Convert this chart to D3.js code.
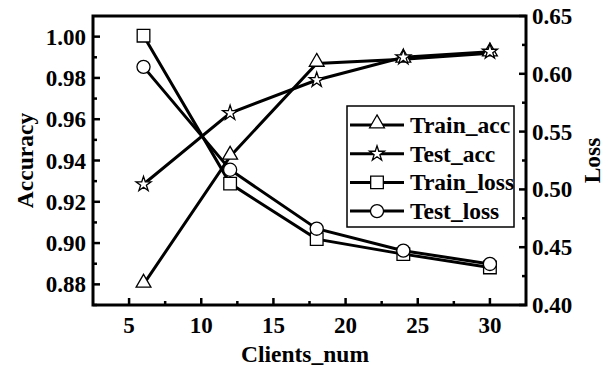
<!DOCTYPE html>
<html><head><meta charset="utf-8">
<script src="https://cdn.jsdelivr.net/npm/d3@7"></script>
<style>body{margin:0;background:#fff}svg{display:block}text{font-family:"Liberation Serif",serif;font-weight:bold}</style>
</head><body><svg id="c" width="610" height="366"></svg>
<script>
const clients = [6, 12, 18, 24, 30];
const trainAcc = [0.880, 0.942, 0.987, 0.989, 0.992];
const testAcc = [0.9285, 0.963, 0.979, 0.990, 0.9927];
const trainLoss = [0.633, 0.505, 0.457, 0.444, 0.4325];
const testLoss = [0.606, 0.517, 0.466, 0.447, 0.4355];
const xTicks = [5, 10, 15, 20, 25, 30];
const accTicks = [0.88, 0.90, 0.92, 0.94, 0.96, 0.98, 1.00];
const lossTicks = [0.40, 0.45, 0.50, 0.55, 0.60, 0.65];

const svg = d3.select("#c");
const L = 93, R = 526, T = 16, B = 305;
const x = d3.scaleLinear().domain([2.5, 32.5]).range([L, R]);
const yA = d3.scaleLinear().domain([0.87, 1.01]).range([B, T]);
const yL = d3.scaleLinear().domain([0.40, 0.65]).range([B, T]);

const g = svg.append("g");
function ticksX(vals, len) {
  vals.forEach(v => g.append("line").attr("x1", x(v)).attr("x2", x(v)).attr("y1", B).attr("y2", B - len).attr("stroke", "#000").attr("stroke-width", 2.5));
}
ticksX(xTicks, 7);
ticksX(xTicks.map(v => v + 2.5).filter(v => v < 32.5), 4);
const accMinor = d3.range(0.87, 1.005, 0.02).map(v => +v.toFixed(3));
accTicks.forEach(v => g.append("line").attr("x1", L).attr("x2", L + 7).attr("y1", yA(v)).attr("y2", yA(v)).attr("stroke", "#000").attr("stroke-width", 2.5));
accMinor.forEach(v => g.append("line").attr("x1", L).attr("x2", L + 4).attr("y1", yA(v)).attr("y2", yA(v)).attr("stroke", "#000").attr("stroke-width", 2.5));
lossTicks.forEach(v => g.append("line").attr("x1", R).attr("x2", R - 7).attr("y1", yL(v)).attr("y2", yL(v)).attr("stroke", "#000").attr("stroke-width", 2.5));
lossTicks.slice(0, -1).forEach(v => g.append("line").attr("x1", R).attr("x2", R - 4).attr("y1", yL(v + 0.025)).attr("y2", yL(v + 0.025)).attr("stroke", "#000").attr("stroke-width", 2.5));

const fs = 23;
xTicks.forEach(v => g.append("text").attr("x", x(v)).attr("y", 333).attr("text-anchor", "middle").attr("font-size", fs).text(v));
accTicks.forEach(v => g.append("text").attr("x", 86).attr("y", yA(v) + 8).attr("text-anchor", "end").attr("font-size", fs).text(v.toFixed(2)));
lossTicks.forEach(v => g.append("text").attr("x", 532).attr("y", yL(v) + 8).attr("text-anchor", "start").attr("font-size", fs).text(v.toFixed(2)));

g.append("text").attr("x", 305).attr("y", 362).attr("text-anchor", "middle").attr("font-size", 23.5).text("Clients_num");
g.append("text").attr("transform", `translate(33,${(T + B) / 2}) rotate(-90)`).attr("text-anchor", "middle").attr("font-size", 23.5).text("Accuracy");
g.append("text").attr("transform", `translate(600,${(T + B) / 2}) rotate(-90)`).attr("text-anchor", "middle").attr("font-size", 23.5).text("Loss");

const sym = {
  tri: d3.symbol().type(d3.symbolTriangle).size(95),
  star: d3.symbol().type(d3.symbolStar).size(70),
  sq: d3.symbol().type(d3.symbolSquare).size(160),
  circ: d3.symbol().type(d3.symbolCircle).size(135)
};
const series = [
  { name: "Train_acc", vals: trainAcc, y: yA, s: "tri", dy: -1.5 },
  { name: "Test_acc", vals: testAcc, y: yA, s: "star", dy: 0 },
  { name: "Train_loss", vals: trainLoss, y: yL, s: "sq", dy: 0 },
  { name: "Test_loss", vals: testLoss, y: yL, s: "circ", dy: 0 }
];
const line = d3.line();
series.forEach(se => {
  const pts = clients.map((c, i) => [x(c), se.y(se.vals[i])]);
  g.append("path").attr("d", line(pts)).attr("fill", "none").attr("stroke", "#000").attr("stroke-width", 3);
});
series.forEach(se => {
  clients.forEach((c, i) => {
    g.append("path").attr("d", sym[se.s]()).attr("transform", `translate(${x(c)},${se.y(se.vals[i]) + se.dy})`)
      .attr("fill", "#fff").attr("stroke", "#000").attr("stroke-width", 1.3);
  });
});

g.append("rect").attr("x", L).attr("y", T).attr("width", R - L).attr("height", B - T).attr("fill", "none").attr("stroke", "#000").attr("stroke-width", 3);

const lg = g.append("g");
lg.append("rect").attr("x", 347).attr("y", 106).attr("width", 167).attr("height", 121).attr("fill", "#fff").attr("stroke", "#000").attr("stroke-width", 1.5);
series.forEach((se, i) => {
  const yy = 125 + i * 28.7;
  lg.append("line").attr("x1", 350).attr("x2", 404).attr("y1", yy).attr("y2", yy).attr("stroke", "#000").attr("stroke-width", 3);
  lg.append("path").attr("d", sym[se.s]()).attr("transform", `translate(377,${yy + se.dy})`).attr("fill", "#fff").attr("stroke", "#000").attr("stroke-width", 1.3);
  lg.append("text").attr("x", 410).attr("y", yy + 8).attr("font-size", 23.5).text(se.name);
});
</script></body></html>
